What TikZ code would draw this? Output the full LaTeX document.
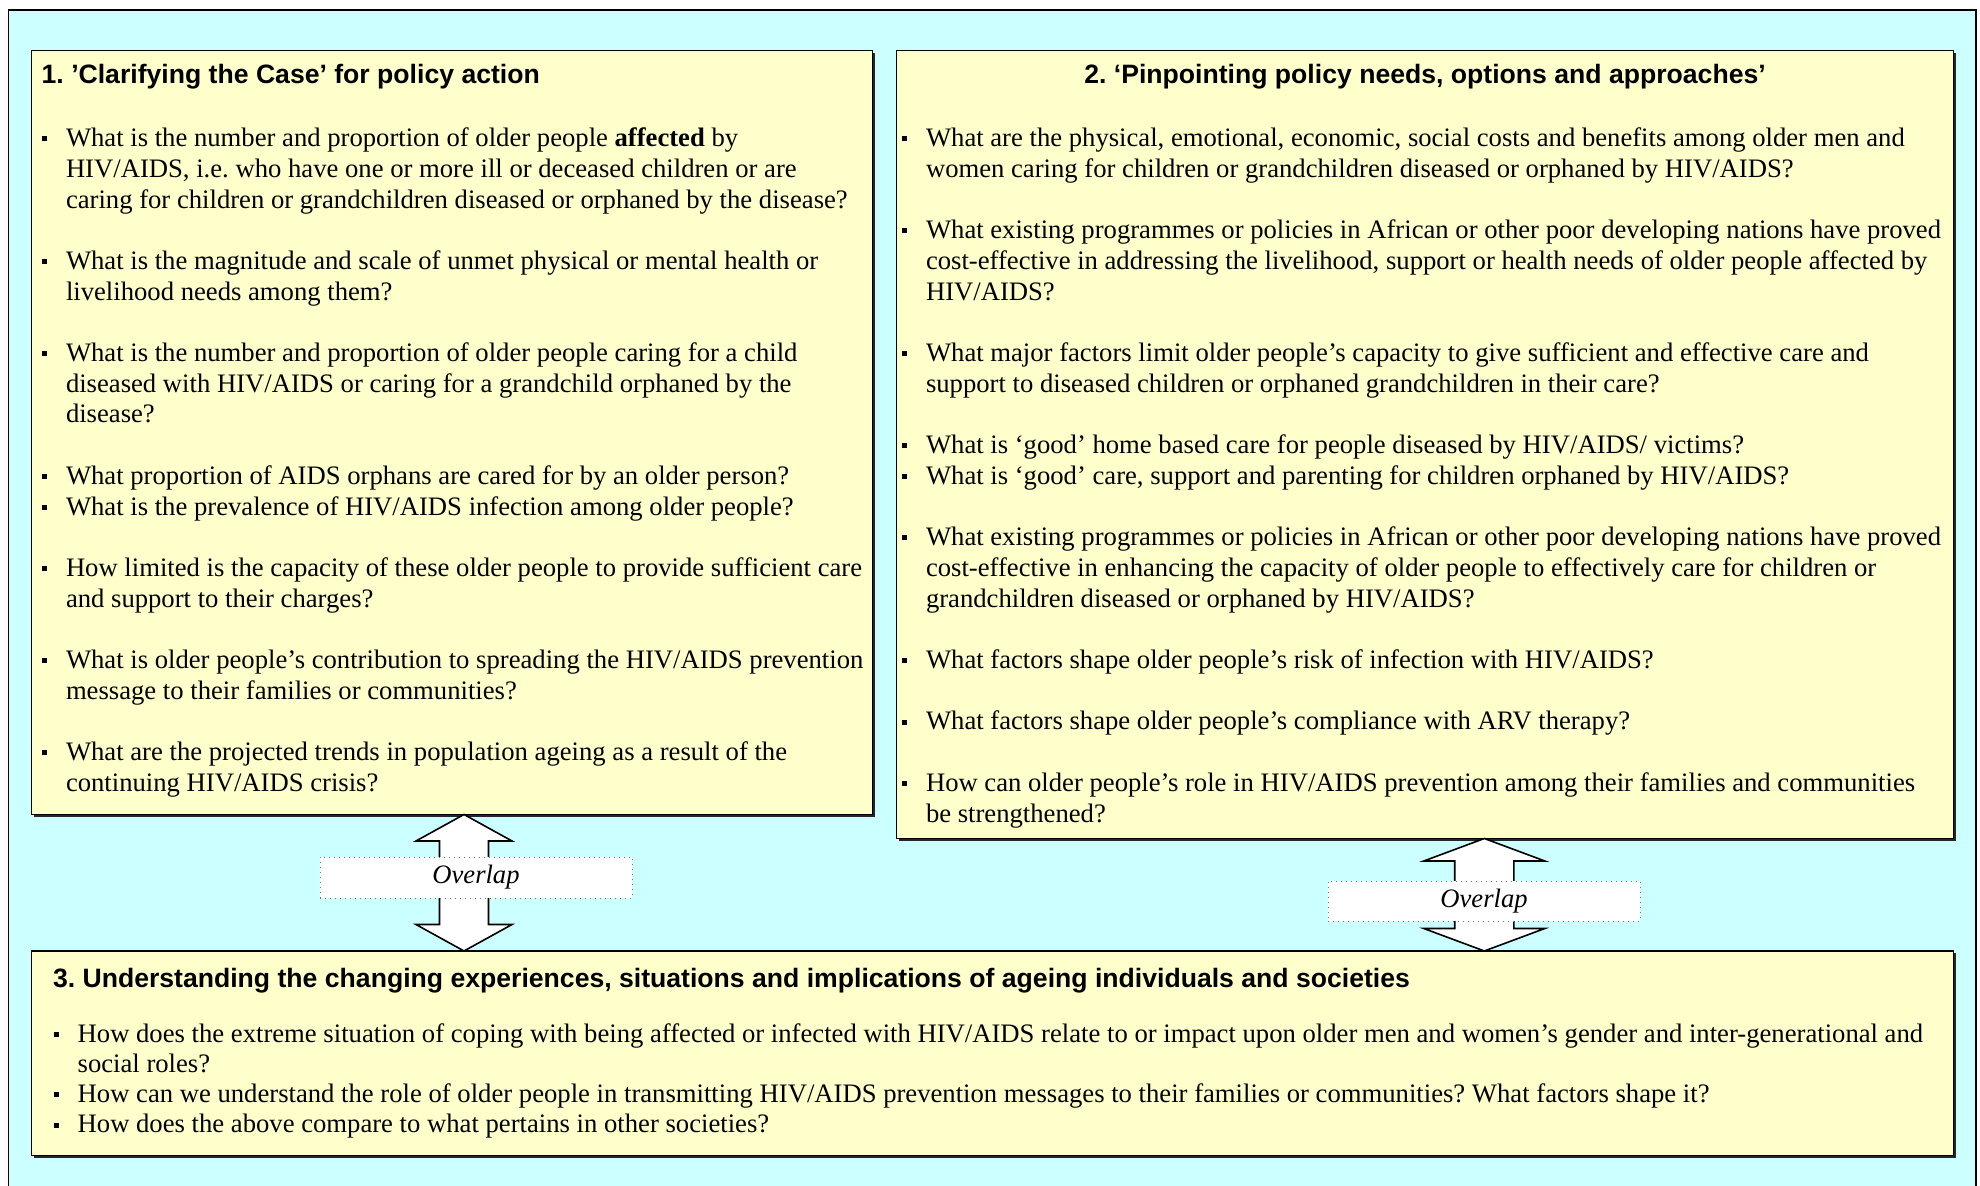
\documentclass[tikz,border=0pt]{standalone}
\usepackage{fontspec}
\setmainfont{Liberation Serif}
\newfontfamily\headfont{Liberation Sans}
\usetikzlibrary{shadows}
\frenchspacing
\definecolor{bgcyan}{HTML}{CCFFFF}
\definecolor{boxyellow}{HTML}{FFFFCC}
\newlength\bulw
\newcommand\BulMark{\raisebox{2.7pt}{\rule{2.5pt}{2.5pt}}}
\newcommand\Bul[1]{\hbox{\makebox[\bulw][l]{\BulMark}#1}}
\newcommand\Con[1]{\hbox{\hspace*{\bulw}#1}}
\newcommand\Blank{\hbox{}}
\newcommand\BodyFont{\fontsize{13.33pt}{15.35pt}\selectfont\frenchspacing}
\newcommand\BodyFontC{\fontsize{13.33pt}{15.15pt}\selectfont\frenchspacing}
\tikzset{
  box/.style={draw=black, line width=0.6pt, fill=boxyellow, inner sep=0pt, outer sep=0pt,
    general shadow={fill=black!85, shadow xshift=1.1pt, shadow yshift=-1.1pt}},
  head/.style={font=\headfont\bfseries\fontsize{13.3pt}{15pt}\selectfont, inner sep=0pt, outer sep=0pt},
  txt/.style={anchor=base west, inner sep=0pt, outer sep=0pt},
  barrow/.style={draw=black, line width=0.8pt, fill=white, line join=miter},
  ovl/.style={draw=black!55, dotted, line width=0.5pt, fill=white, inner sep=0pt,
    font=\itshape\fontsize{13.3pt}{15pt}\selectfont},
}
\begin{document}
\begin{tikzpicture}[x=0.5pt,y=-0.5pt]
\useasboundingbox (0,0) rectangle (1980,1186);
\clip (0,0) rectangle (1980,1186);
\fill[white] (0,0) rectangle (1980,1186);
% outer frame
\draw[line width=0.75pt, fill=bgcyan] (8.5,10) rectangle (1976,1210);

% boxes
\node[box, minimum width=420.5pt, minimum height=382pt, anchor=north west] (b1) at (31.6,50.5) {};
\node[box, minimum width=528.5pt, minimum height=394pt, anchor=north west] (b2) at (896.6,50.5) {};
\node[box, minimum width=961pt, minimum height=102.25pt, anchor=north west] (b3) at (31.6,951) {};

% block arrows
\coordinate (x1) at (464,0);
\coordinate (x2) at (1484.3,0);
\draw[barrow] (x1 |- b1.south) -- ++(48,26.5) -- ++(-23.5,0) -- ++(0,83.5) -- ++(23.5,0)
  -- (x1 |- b3.north) -- ++(-48,-26.5) -- ++(23.5,0) -- ++(0,-83.5) -- ++(-23.5,0) -- cycle;
\draw[barrow] (x2 |- b2.south) -- ++(60.5,22.5) -- ++(-30.9,0) -- ++(0,67.5) -- ++(30.9,0)
  -- (x2 |- b3.north) -- ++(-60.5,-22.5) -- ++(30.9,0) -- ++(0,-67.5) -- ++(-30.9,0) -- cycle;

% overlap labels
\node[ovl, minimum width=156pt, minimum height=20.5pt] (o1) at (476,877.5) {Overlap};
\node[ovl, minimum width=156pt, minimum height=20pt] (o2) at (1484,901) {Overlap};

% headings
\node[head, anchor=base west] (h1) at (41.7,84) {1. ’Clarifying the Case’ for policy action};
\node[head, anchor=base] (h2) at (1425,84) {2. ‘Pinpointing policy needs, options and approaches’};
\node[head, anchor=base west] (h3) at (53,987) {3. Understanding the changing experiences, situations and implications of ageing individuals and societies};

% box 1 text
\node[txt] (t1) at (42.3,146.7) {\vtop{\setlength\bulw{11.85pt}\BodyFont
\Bul{What is the number and proportion of older people \textbf{affected} by}
\Con{HIV/AIDS, i.e. who have one or more ill or deceased children or are}
\Con{caring for children or grandchildren diseased or orphaned by the disease?}
\Blank
\Bul{What is the magnitude and scale of unmet physical or mental health or}
\Con{livelihood needs among them?}
\Blank
\Bul{What is the number and proportion of older people caring for a child}
\Con{diseased with HIV/AIDS or caring for a grandchild orphaned by the}
\Con{disease?}
\Blank
\Bul{What proportion of AIDS orphans are cared for by an older person?}
\Bul{What is the prevalence of HIV/AIDS infection among older people?}
\Blank
\Bul{How limited is the capacity of these older people to provide sufficient care}
\Con{and support to their charges?}
\Blank
\Bul{What is older people’s contribution to spreading the HIV/AIDS prevention}
\Con{message to their families or communities?}
\Blank
\Bul{What are the projected trends in population ageing as a result of the}
\Con{continuing HIV/AIDS crisis?}
}};

% box 2 text
\node[txt] (t2) at (902.3,146.7) {\vtop{\setlength\bulw{11.85pt}\BodyFont
\Bul{What are the physical, emotional, economic, social costs and benefits among older men and}
\Con{women caring for children or grandchildren diseased or orphaned by HIV/AIDS?}
\Blank
\Bul{What existing programmes or policies in African or other poor developing nations have proved}
\Con{cost-effective in addressing the livelihood, support or health needs of older people affected by}
\Con{HIV/AIDS?}
\Blank
\Bul{What major factors limit older people’s capacity to give sufficient and effective care and}
\Con{support to diseased children or orphaned grandchildren in their care?}
\Blank
\Bul{What is ‘good’ home based care for people diseased by HIV/AIDS/ victims?}
\Bul{What is ‘good’ care, support and parenting for children orphaned by HIV/AIDS?}
\Blank
\Bul{What existing programmes or policies in African or other poor developing nations have proved}
\Con{cost-effective in enhancing the capacity of older people to effectively care for children or}
\Con{grandchildren diseased or orphaned by HIV/AIDS?}
\Blank
\Bul{What factors shape older people’s risk of infection with HIV/AIDS?}
\Blank
\Bul{What factors shape older people’s compliance with ARV therapy?}
\Blank
\Bul{How can older people’s role in HIV/AIDS prevention among their families and communities}
\Con{be strengthened?}
}};

% box 3 text
\node[txt] (t3) at (54,1042) {\vtop{\setlength\bulw{11.85pt}\BodyFontC
\Bul{How does the extreme situation of coping with being affected or infected with HIV/AIDS relate to or impact upon older men and women’s gender and inter-generational and}
\Con{social roles?}
\Bul{How can we understand the role of older people in transmitting HIV/AIDS prevention messages to their families or communities? What factors shape it?}
\Bul{How does the above compare to what pertains in other societies?}
}};
\end{tikzpicture}
\end{document}
